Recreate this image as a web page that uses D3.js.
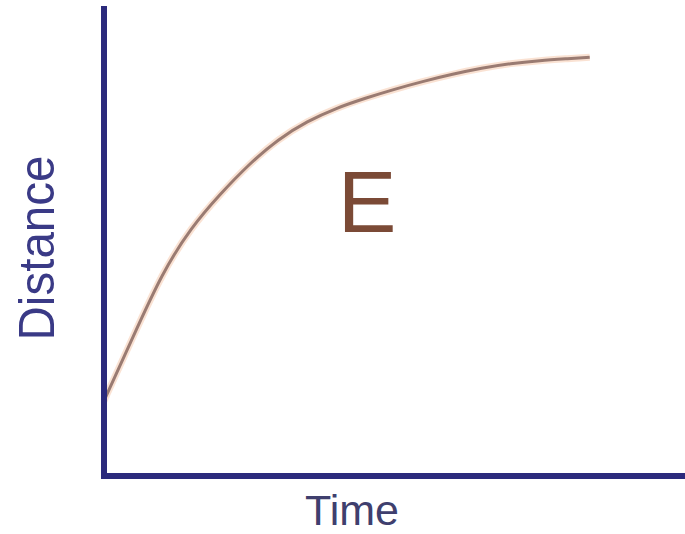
<!DOCTYPE html>
<html>
<head>
<meta charset="utf-8">
<script src="https://cdn.jsdelivr.net/npm/d3@7"></script>
<style>
  body { margin: 0; background: #fff; }
  svg { display: block; }
</style>
</head>
<body>
<div id="chart"></div>
<script>
// curve (time, distance on a 0-100 scale)
var times     = [0, 5, 10, 15, 20, 25, 30, 35, 40, 45, 50, 55, 60, 65, 70, 75, 80, 83.6];
var distances = [16.0, 29.6, 43.2, 52.9, 60.0, 66.4, 71.7, 75.5, 78.3, 80.4, 82.3, 84.0, 85.5, 86.8, 87.8, 88.4, 88.8, 89.1];
var curveLabel = "E";
var xLabel = "Time";
var yLabel = "Distance";

var width = 685, height = 534;
var margin = {left: 104, right: 0, top: 6, bottom: 58};

var data = times.map(function(t, i){ return {t: t, d: distances[i]}; });

var x = d3.scaleLinear().domain([0, 100]).range([margin.left, width - margin.right]);
var y = d3.scaleLinear().domain([0, 100]).range([height - margin.bottom, margin.top]);

var svg = d3.select("#chart").append("svg")
    .attr("width", width)
    .attr("height", height);

// basis spline smooths out the small reading errors
var line = d3.line()
    .x(function(d){ return x(d.t); })
    .y(function(d){ return y(d.d); })
    .curve(d3.curveBasis);

// soft halo under the curve
svg.append("path")
    .attr("d", line(data))
    .attr("fill", "none")
    .attr("stroke", "#f8d6c0")
    .attr("stroke-width", 7)
    .attr("stroke-opacity", 0.7);
svg.append("path")
    .attr("d", line(data))
    .attr("fill", "none")
    .attr("stroke", "#9a7b72")
    .attr("stroke-width", 3);

// axes (plain lines, no ticks)
var axisColor = "#2b2a7c";
svg.append("line")
    .attr("x1", x(0)).attr("x2", x(0))
    .attr("y1", y(100)).attr("y2", y(0) + 3)
    .attr("stroke", axisColor)
    .attr("stroke-width", 6);
svg.append("line")
    .attr("x1", x(0) - 3).attr("x2", x(100))
    .attr("y1", y(0)).attr("y2", y(0))
    .attr("stroke", axisColor)
    .attr("stroke-width", 6);

// curve label
svg.append("text")
    .attr("x", 367)
    .attr("y", 232)
    .attr("text-anchor", "middle")
    .attr("font-family", "Liberation Sans, Arial, sans-serif")
    .attr("font-size", 88)
    .attr("fill", "#7b4a36")
    .text(curveLabel);

// axis titles
svg.append("text")
    .attr("x", 352)
    .attr("y", 525)
    .attr("text-anchor", "middle")
    .attr("font-family", "Liberation Sans, Arial, sans-serif")
    .attr("font-size", 43)
    .attr("fill", "#3f3f6e")
    .text(xLabel);

svg.append("text")
    .attr("transform", "translate(54,248) rotate(-90)")
    .attr("text-anchor", "middle")
    .attr("font-family", "Liberation Sans, Arial, sans-serif")
    .attr("font-size", 50)
    .attr("textLength", 185)
    .attr("lengthAdjust", "spacingAndGlyphs")
    .attr("fill", "#3a3a86")
    .text(yLabel);
</script>
</body>
</html>
